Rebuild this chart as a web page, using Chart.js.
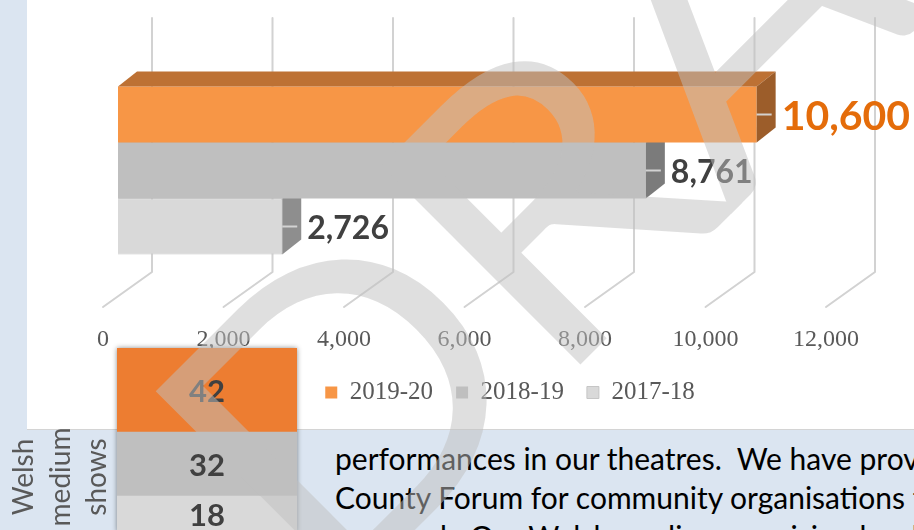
<!DOCTYPE html>
<html><head><meta charset="utf-8">
<script src="https://cdn.jsdelivr.net/npm/chart.js@4"></script>
<style>
html,body{margin:0;padding:0;overflow:hidden;}
body{width:914px;height:530px;position:relative;background:#dbe5f1;font-family:Lato,sans-serif;}
#panel{position:absolute;left:27px;top:0;width:960px;height:429px;background:#fff;border-bottom:1px solid #d4d4d4;}
#main{position:absolute;left:27px;top:0;}
#stackWrap{position:absolute;left:117px;top:348px;width:180px;height:184px;box-shadow:0 0 5px rgba(0,0,0,0.45);}
#stack{display:block;}
#vlabel{position:absolute;left:-11px;top:422px;width:140px;height:110px;transform:rotate(-90deg);text-align:center;font:28px/36.5px Lato;color:#595959;}
#body{position:absolute;left:335px;top:439px;font:30px/39px Lato;color:#000;white-space:pre;}
#wm{position:absolute;left:0;top:0;pointer-events:none;}
</style></head><body>
<div id="panel"></div>
<canvas id="main" width="966" height="430"></canvas>
<div id="vlabel"></div>
<div id="body">performances in our theatres.  We have provided
County Forum for community organisations to
per week. Our Welsh medium provision has been</div>
<div id="stackWrap"><canvas id="stack" width="180" height="184"></canvas></div>
<canvas id="wm" width="914" height="530"></canvas>
<script>
// ---- data ----
const seasons = ['2019-20', '2018-19', '2017-18'];
const audience = [10600, 8761, 2726];
const axisMin = 0;
const axisMax = 12000;
const axisStep = 2000;
const welshLabel = ['Welsh', 'medium', 'shows'];
const welshShows = [42, 32, 18]; // 2019-20, 2018-19, 2017-18

// ---- styles ----
const frontColors = ['#f79646', '#bfbfbf', '#d9d9d9'];
const topColors = ['#bd7134', '#9a9a9a', '#b0b0b0'];
const sideColors = ['#9c5d2a', '#7b7b7b', '#8e8e8e'];
const labelColors = ['#e46c0a', '#404040', '#404040'];
const labelSizes = [41, 32, 32];
const cellColors = ['#ed7d31', '#bfbfbf', '#d9d9d9'];
const fmt = v => Number(v).toLocaleString('en-US');

document.getElementById('vlabel').innerHTML = welshLabel.join('<br>');

const BAR_D = [19, -15];
const WALL_D = [34, -25];
const FLOOR_D = [-15, 10];

const grid3d = {
  id: 'grid3d',
  beforeDatasetsDraw(chart) {
    const {ctx, chartArea: a, scales: {x}} = chart;
    ctx.save();
    ctx.strokeStyle = '#d2d2d2';
    ctx.lineWidth = 2;
    ctx.lineCap = 'round';
    ctx.lineJoin = 'round';
    x.ticks.forEach(t => {
      const px = x.getPixelForValue(t.value);
      ctx.beginPath();
      ctx.moveTo(px + WALL_D[0], a.top + WALL_D[1] - 1);
      ctx.lineTo(px + WALL_D[0], a.bottom + WALL_D[1]);
      ctx.lineTo(px + FLOOR_D[0], a.bottom + FLOOR_D[1]);
      ctx.stroke();
    });
    ctx.restore();
  }
};

const bar3d = {
  id: 'bar3d',
  afterDatasetDraw(chart, args) {
    const {ctx} = chart;
    const i = args.index;
    const [dx, dy] = BAR_D;
    args.meta.data.forEach(el => {
      const {x, y, base, height} = el.getProps(['x', 'y', 'base', 'height'], true);
      const l = Math.min(x, base), r = Math.max(x, base), t = y - height / 2, b = y + height / 2;
      ctx.save();
      ctx.fillStyle = topColors[i];
      ctx.beginPath();
      ctx.moveTo(l, t); ctx.lineTo(l + dx, t + dy); ctx.lineTo(r + dx, t + dy); ctx.lineTo(r, t);
      ctx.closePath(); ctx.fill();
      ctx.fillStyle = sideColors[i];
      ctx.beginPath();
      ctx.moveTo(r, t); ctx.lineTo(r + dx, t + dy); ctx.lineTo(r + dx, b + dy); ctx.lineTo(r, b);
      ctx.closePath(); ctx.fill();
      ctx.strokeStyle = 'rgba(215,215,215,0.95)';
      ctx.lineWidth = 2;
      ctx.beginPath(); ctx.moveTo(r, y); ctx.lineTo(r + 15, y); ctx.stroke();
      ctx.restore();
    });
  },
  afterDatasetsDraw(chart) {
    const {ctx} = chart;
    ctx.save();
    ctx.textAlign = 'left';
    ctx.textBaseline = 'alphabetic';
    chart.data.datasets.forEach((ds, i) => {
      const meta = chart.getDatasetMeta(i);
      meta.data.forEach((el, j) => {
        const s = labelSizes[i];
        ctx.font = 'bold ' + s + 'px Lato';
        ctx.fillStyle = labelColors[i];
        ctx.fillText(fmt(ds.data[j]), el.x + 25, el.y + 1 + 0.36 * s);
      });
    });
    ctx.restore();
  }
};

new Chart(document.getElementById('main'), {
  type: 'bar',
  data: {
    labels: [''],
    datasets: seasons.map((s, i) => ({
      label: s,
      data: [audience[i]],
      backgroundColor: frontColors[i],
      borderColor: i === 2 ? '#c6c6c6' : frontColors[i],
      borderWidth: i === 2 ? 1 : 0,
      categoryPercentage: 0.664,
      barPercentage: 1
    }))
  },
  options: {
    indexAxis: 'y',
    responsive: false,
    animation: false,
    devicePixelRatio: 1,
    layout: {padding: {top: 44, bottom: 15, left: 0, right: 0}},
    scales: {
      x: {
        type: 'linear', position: 'bottom', min: axisMin, max: axisMax,
        ticks: {stepSize: axisStep, padding: 28, labelOffset: -15, maxRotation: 0, color: '#595959',
          font: {family: 'Liberation Serif', size: 24}, callback: v => fmt(v)},
        grid: {display: false, drawTicks: false},
        border: {display: false},
        afterFit(s) { s.height = 60; }
      },
      y: {
        type: 'category', position: 'left',
        ticks: {display: false}, grid: {display: false, drawTicks: false}, border: {display: false},
        afterFit(s) { s.width = 91; }
      },
      yR: {
        type: 'linear', position: 'right',
        ticks: {display: false}, grid: {display: false, drawTicks: false}, border: {display: false},
        afterFit(s) { s.width = 152; }
      }
    },
    plugins: {
      legend: {
        position: 'bottom',
        labels: {boxWidth: 12, boxHeight: 12, padding: 23, color: '#595959',
          font: {family: 'Liberation Serif', size: 25}}
      },
      tooltip: {enabled: false}
    }
  },
  plugins: [grid3d, bar3d]
});

// stacked "Welsh medium shows" column
const stackOrder = [2, 1, 0];
const cellLabels = {
  id: 'cellLabels',
  afterDatasetsDraw(chart) {
    const {ctx} = chart;
    ctx.save();
    ctx.font = 'bold 31px Lato';
    ctx.fillStyle = '#404040';
    ctx.textAlign = 'center';
    ctx.textBaseline = 'alphabetic';
    chart.data.datasets.forEach((ds, i) => {
      chart.getDatasetMeta(i).data.forEach((el, j) => {
        const cy = (el.y + el.base) / 2;
        ctx.fillText(String(ds.data[j]), el.x, cy + 0.36 * 31 + 1);
      });
    });
    ctx.restore();
  }
};
new Chart(document.getElementById('stack'), {
  type: 'bar',
  data: {
    labels: [''],
    datasets: stackOrder.map(i => ({
      label: seasons[i],
      data: [welshShows[i]],
      backgroundColor: cellColors[i],
      borderWidth: 0,
      categoryPercentage: 1,
      barPercentage: 1
    }))
  },
  options: {
    responsive: false,
    animation: false,
    devicePixelRatio: 1,
    layout: {padding: 0},
    scales: {
      x: {stacked: true, display: false},
      y: {stacked: true, display: false, min: 0, max: welshShows.reduce((a, b) => a + b, 0)}
    },
    plugins: {legend: {display: false}, tooltip: {enabled: false}}
  },
  plugins: [cellLabels]
});

// DRAFT watermark overlay (stretched WordArt-like text, drawn opaque offscreen, composited at 50%)
(function () {
  const c = document.getElementById('wm');
  const off = document.createElement('canvas');
  off.width = c.width; off.height = c.height;
  const o = off.getContext('2d');
  o.font = '300 100px Lato';
  const cap100 = o.measureText('D').actualBoundingBoxAscent;
  const size = 100 * 272 / cap100;
  o.font = '300 ' + size + 'px Lato';
  const mD = o.measureText('D');
  const lsbD = -mD.actualBoundingBoxLeft;
  const cap = mD.actualBoundingBoxAscent;
  const mA = o.measureText('A');
  const lsbA = -mA.actualBoundingBoxLeft;
  const aOrigin = o.measureText('DRA').width - mA.width;
  const sx = 535 / (aOrigin + lsbA - lsbD);
  const k = Math.SQRT1_2;
  const u = lsbD * sx;
  const x0 = 160 - k * (u - cap);
  const y0 = 391 + k * (u + cap);
  o.fillStyle = '#c0c0c0';
  o.strokeStyle = '#c0c0c0';
  o.lineWidth = 14;
  o.lineJoin = 'miter';
  o.translate(x0, y0);
  o.rotate(-Math.PI / 4);
  o.scale(sx, 1);
  o.fillText('DRAFT', 0, 0);
  o.strokeText('DRAFT', 0, 0);
  const ctx = c.getContext('2d');
  ctx.globalAlpha = 0.5;
  ctx.drawImage(off, 0, 0);
})();
</script>
</body></html>
